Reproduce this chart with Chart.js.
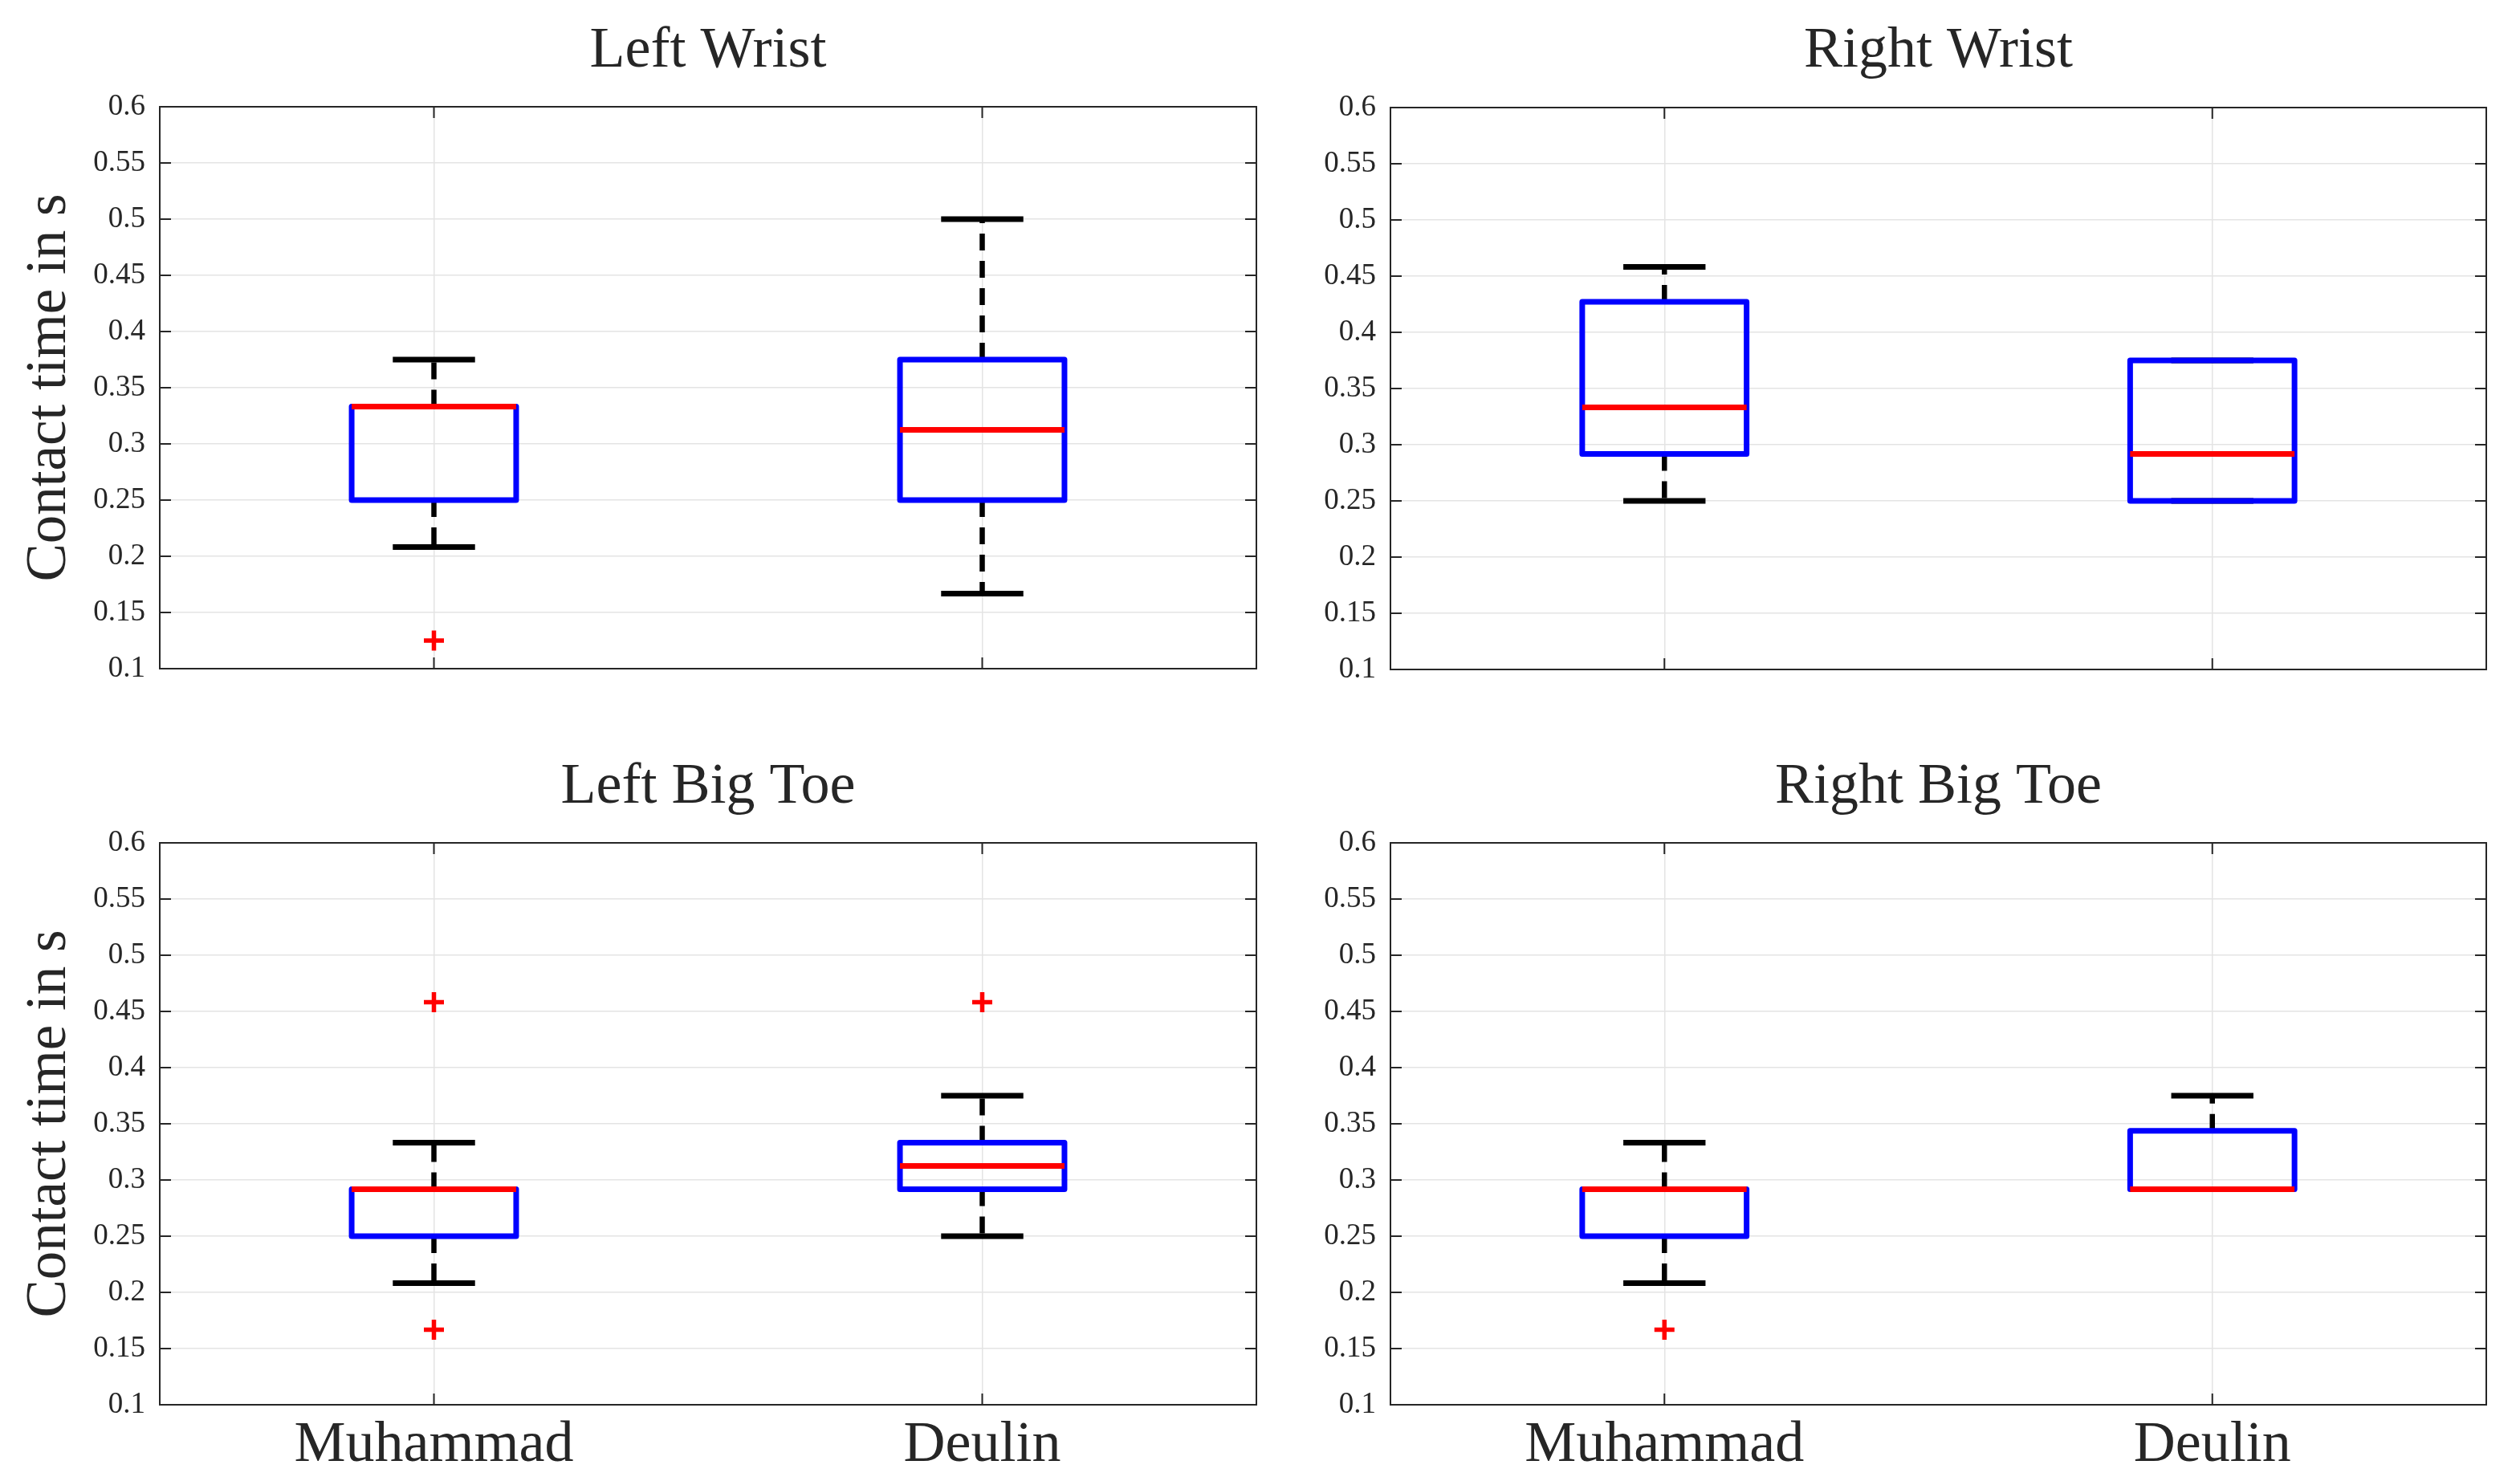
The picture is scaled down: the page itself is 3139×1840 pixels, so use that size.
<!DOCTYPE html>
<html lang="en">
<head>
<meta charset="UTF-8">
<title>Contact time box plots</title>
<script src="https://cdn.jsdelivr.net/npm/chart.js"></script>
<style>
  * { margin: 0; padding: 0; }
  body { width: 3139px; height: 1840px; background: #ffffff; overflow: hidden; position: relative; }
  canvas { position: absolute; }
</style>
</head>
<body>
<canvas id="leftWrist" width="1600" height="920" style="left:0;top:0"></canvas>
<canvas id="rightWrist" width="1539" height="920" style="left:1600px;top:0"></canvas>
<canvas id="leftToe" width="1600" height="920" style="left:0;top:920px"></canvas>
<canvas id="rightToe" width="1539" height="920" style="left:1600px;top:920px"></canvas>

<script>
// ---- data ----
const categories = ['Muhammad', 'Deulin'];
const yTicks = [0.1, 0.15, 0.2, 0.25, 0.3, 0.35, 0.4, 0.45, 0.5, 0.55, 0.6];

// [lower whisker, Q1, median, Q3, upper whisker]
const leftWristMuhammad = [0.2083, 0.25, 0.3333, 0.3333, 0.375];
const leftWristDeulin = [0.1667, 0.25, 0.3125, 0.375, 0.5];
const rightWristMuhammad = [0.25, 0.2917, 0.3333, 0.4271, 0.4583];
const rightWristDeulin = [0.25, 0.25, 0.2917, 0.375, 0.375];
const leftToeMuhammad = [0.2083, 0.25, 0.2917, 0.2917, 0.3333];
const leftToeDeulin = [0.25, 0.2917, 0.3125, 0.3333, 0.375];
const rightToeMuhammad = [0.2083, 0.25, 0.2917, 0.2917, 0.3333];
const rightToeDeulin = [0.2917, 0.2917, 0.2917, 0.3438, 0.375];

// outliers, one list per category
const leftWristOutliers = [[0.125], []];
const rightWristOutliers = [[], []];
const leftToeOutliers = [[0.1667, 0.4583], [0.4583]];
const rightToeOutliers = [[0.1667], []];

// ---- styling ----
const serif = "'Liberation Serif', 'Times New Roman', serif";
const textColor = '#262626';
const gridColor = '#e4e4e4';
const BOX_HALF = 0.15;
const CAP_HALF = 0.075;

function lineSet(points, color, width, dash, order, cap) {
  return {
    data: points,
    showLine: true,
    borderColor: color,
    borderWidth: width,
    borderDash: dash || [],
    borderCapStyle: cap || 'butt',
    borderJoinStyle: 'round',
    pointRadius: 0,
    pointHoverRadius: 0,
    fill: false,
    tension: 0,
    order: order
  };
}

function boxDatasets(stats, outliers) {
  const sets = [];
  stats.forEach((s, i) => {
    const x = i + 1;
    const lo = s[0], q1 = s[1], med = s[2], q3 = s[3], hi = s[4];
    // dashed whiskers start at the box edge
    sets.push(lineSet([{x: x, y: q3}, {x: x, y: hi}], '#000000', 6.5, [21, 13], 5));
    sets.push(lineSet([{x: x, y: q1}, {x: x, y: lo}], '#000000', 6.5, [21, 13], 5));
    // caps
    sets.push(lineSet([{x: x - CAP_HALF, y: hi}, {x: x + CAP_HALF, y: hi}], '#000000', 7, null, 4));
    sets.push(lineSet([{x: x - CAP_HALF, y: lo}, {x: x + CAP_HALF, y: lo}], '#000000', 7, null, 4));
    // box
    sets.push(lineSet([
      {x: x - BOX_HALF, y: q1}, {x: x + BOX_HALF, y: q1},
      {x: x + BOX_HALF, y: q3}, {x: x - BOX_HALF, y: q3},
      {x: x - BOX_HALF, y: q1}
    ], '#0000ff', 7, null, 3, 'round'));
    // median
    sets.push(lineSet([{x: x - BOX_HALF, y: med}, {x: x + BOX_HALF, y: med}], '#ff0000', 7, null, 2));
  });
  const pts = [];
  outliers.forEach((arr, i) => arr.forEach(v => pts.push({x: i + 1, y: v})));
  sets.push({
    data: pts,
    showLine: false,
    pointStyle: 'cross',
    pointRadius: 12.5,
    pointHoverRadius: 12.5,
    borderColor: '#ff0000',
    backgroundColor: '#ff0000',
    borderWidth: 5.5,
    order: 1
  });
  return sets;
}

// border box with inward tick marks
const framePlugin = {
  id: 'frame',
  afterDraw(chart) {
    const ctx = chart.ctx, a = chart.chartArea, xs = chart.scales.x, ys = chart.scales.y;
    ctx.save();
    ctx.strokeStyle = textColor;
    ctx.lineWidth = 2;
    ctx.beginPath();
    ys.ticks.forEach(t => {
      const py = ys.getPixelForValue(t.value);
      ctx.moveTo(a.left, py); ctx.lineTo(a.left + 14, py);
      ctx.moveTo(a.right, py); ctx.lineTo(a.right - 14, py);
    });
    xs.ticks.forEach(t => {
      const px = xs.getPixelForValue(t.value);
      ctx.moveTo(px, a.bottom); ctx.lineTo(px, a.bottom - 14);
      ctx.moveTo(px, a.top); ctx.lineTo(px, a.top + 14);
    });
    ctx.stroke();
    ctx.strokeRect(a.left, a.top, a.right - a.left, a.bottom - a.top);
    ctx.restore();
  }
};

function makePanel(id, title, stats, outliers, lay) {
  return new Chart(document.getElementById(id), {
    type: 'scatter',
    data: { datasets: boxDatasets(stats, outliers) },
    options: {
      responsive: false,
      animation: false,
      devicePixelRatio: 1,
      events: [],
      layout: { padding: { left: 0, right: lay.padRight, top: 0, bottom: 0 } },
      plugins: {
        legend: { display: false },
        tooltip: { enabled: false },
        title: {
          display: true,
          text: title,
          fullSize: false,
          color: textColor,
          font: { family: serif, size: 72, weight: 'normal', lineHeight: 1 },
          padding: { top: lay.titleTop, bottom: lay.titleBottom }
        }
      },
      scales: {
        x: {
          type: 'linear',
          min: 0.5,
          max: 2.5,
          afterBuildTicks: s => { s.ticks = categories.map((c, i) => ({value: i + 1})); },
          afterFit: s => { s.height = lay.xHeight; },
          ticks: {
            display: lay.showX,
            autoSkip: false,
            maxRotation: 0,
            padding: 8,
            color: textColor,
            font: { family: serif, size: 72 },
            callback: (v, i) => categories[i]
          },
          grid: { color: gridColor, lineWidth: 1.5, drawTicks: false },
          border: { display: false }
        },
        y: {
          type: 'linear',
          min: 0.1,
          max: 0.6,
          afterBuildTicks: s => { s.ticks = yTicks.map(v => ({value: v})); },
          afterFit: s => { s.width = lay.yWidth; },
          ticks: {
            autoSkip: false,
            padding: 18,
            color: textColor,
            font: { family: serif, size: 37 },
            callback: v => String(+v.toFixed(2))
          },
          grid: { color: gridColor, lineWidth: 1.5, drawTicks: false },
          border: { display: false },
          title: {
            display: lay.showY,
            text: 'Contact time in s',
            color: textColor,
            font: { family: serif, size: 71, weight: 'normal', lineHeight: 1 },
            padding: { top: 27, bottom: 0 }
          }
        }
      }
    },
    plugins: [framePlugin]
  });
}

makePanel('leftWrist', 'Left Wrist', [leftWristMuhammad, leftWristDeulin], leftWristOutliers,
  { padRight: 35, yWidth: 199, xHeight: 87, titleTop: 28, titleBottom: 33, showX: false, showY: true });
makePanel('rightWrist', 'Right Wrist', [rightWristMuhammad, rightWristDeulin], rightWristOutliers,
  { padRight: 42, yWidth: 132, xHeight: 86, titleTop: 28, titleBottom: 34, showX: false, showY: false });
makePanel('leftToe', 'Left Big Toe', [leftToeMuhammad, leftToeDeulin], leftToeOutliers,
  { padRight: 35, yWidth: 199, xHeight: 90, titleTop: 25, titleBottom: 33, showX: true, showY: true });
makePanel('rightToe', 'Right Big Toe', [rightToeMuhammad, rightToeDeulin], rightToeOutliers,
  { padRight: 42, yWidth: 132, xHeight: 90, titleTop: 25, titleBottom: 33, showX: true, showY: false });
</script>
</body>
</html>
